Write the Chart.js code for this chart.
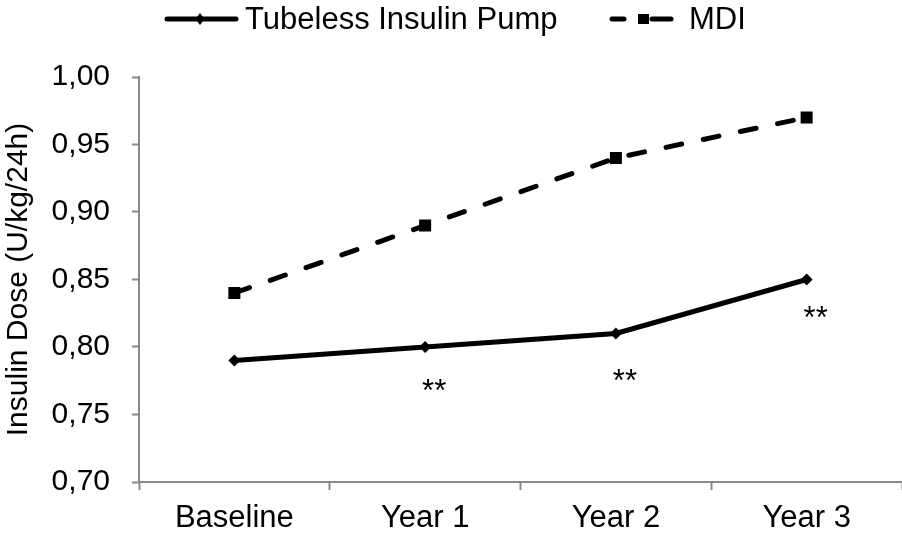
<!DOCTYPE html>
<html>
<head>
    <title>Insulin Dose</title>
    <script src="https://cdn.jsdelivr.net/npm/chart.js"></script>
    <style>
        body {
            margin: 0;
            padding: 0;
            background: white;
        }
        #chart-container {
            width: 902px;
            height: 541px;
        }
    </style>
</head>
<body>

<div id="chart-container">
    <canvas id="doseChart"></canvas>
</div>

<script>
    const categories = ['Baseline', 'Year 1', 'Year 2', 'Year 3'];
    const pumpDose = [0.79, 0.80, 0.81, 0.85];
    const mdiDose = [0.84, 0.89, 0.94, 0.97];
    // significance marks: text and the value they sit at under the pump line
    const sigText = ['', '**', '**', '**'];
    const sigValue = [null, 0.7737, 0.7807, 0.8274];

    const FONT = "'Liberation Sans', Arial, sans-serif";
    const AXIS = '#898989';

    // legend drawn by hand so the sample lines can sit tight against the text
    const legendPlugin = {
        id: 'legendRow',
        afterDraw(chart) {
            const ctx = chart.ctx;
            const y = 19;
            ctx.save();
            ctx.strokeStyle = '#000';
            ctx.fillStyle = '#000';
            ctx.lineWidth = 5;
            ctx.lineCap = 'round';

            // solid sample with small diamond
            ctx.beginPath();
            ctx.moveTo(167, y); ctx.lineTo(236, y);
            ctx.stroke();
            ctx.beginPath();
            ctx.moveTo(200, y - 6); ctx.lineTo(204.5, y); ctx.lineTo(200, y + 6); ctx.lineTo(195.5, y);
            ctx.closePath();
            ctx.fill();

            // dashed sample with square
            ctx.beginPath();
            ctx.moveTo(612, y); ctx.lineTo(624, y);
            ctx.moveTo(652, y); ctx.lineTo(671, y);
            ctx.stroke();
            ctx.fillRect(638, y - 5, 11, 10);

            ctx.font = '31px ' + FONT;
            ctx.textBaseline = 'alphabetic';
            ctx.textAlign = 'left';
            ctx.fillText(chart.data.datasets[0].label, 245, 29);
            ctx.fillText(chart.data.datasets[1].label, 689, 29);
            ctx.restore();
        }
    };

    const sigPlugin = {
        id: 'sigMarks',
        afterDatasetsDraw(chart) {
            const ctx = chart.ctx;
            const x = chart.scales.x, y = chart.scales.y;
            ctx.save();
            ctx.font = '31px ' + FONT;
            ctx.fillStyle = '#000';
            ctx.textAlign = 'center';
            ctx.textBaseline = 'alphabetic';
            sigText.forEach((t, i) => {
                if (!t) return;
                ctx.fillText(t, x.getPixelForValue(i) + 9, y.getPixelForValue(sigValue[i]) + 18);
            });
            ctx.restore();
        }
    };

    new Chart(document.getElementById('doseChart'), {
        type: 'line',
        data: {
            labels: categories,
            datasets: [{
                label: 'Tubeless Insulin Pump',
                data: pumpDose,
                borderColor: '#000',
                backgroundColor: '#000',
                borderWidth: 5,
                pointStyle: 'rectRot',
                pointRadius: 6,
                pointBorderWidth: 0,
                tension: 0
            }, {
                label: 'MDI',
                data: mdiDose,
                borderColor: '#000',
                backgroundColor: '#000',
                borderWidth: 5,
                borderDash: [16, 22],
                borderCapStyle: 'round',
                pointStyle: 'rect',
                pointRadius: 8.5,
                pointBorderWidth: 0,
                tension: 0
            }]
        },
        options: {
            responsive: true,
            maintainAspectRatio: false,
            animation: false,
            layout: {
                autoPadding: false,
                padding: { left: 0, right: 0, top: 77, bottom: 0 }
            },
            plugins: {
                legend: { display: false },
                tooltip: { enabled: false }
            },
            scales: {
                x: {
                    offset: true,
                    grid: {
                        offset: true,
                        drawOnChartArea: false,
                        tickLength: 8,
                        tickWidth: 2,
                        tickColor: AXIS
                    },
                    border: { color: AXIS, width: 2 },
                    ticks: {
                        color: '#000',
                        font: { family: FONT, size: 31 },
                        padding: 10
                    },
                    afterFit(scale) {
                        scale.height = 59;
                        scale.paddingLeft = 0;
                        scale.paddingRight = 0;
                    }
                },
                y: {
                    min: 0.70,
                    max: 1.00,
                    ticks: {
                        stepSize: 0.05,
                        color: '#000',
                        font: { family: FONT, size: 30 },
                        padding: 22,
                        callback: v => v.toFixed(2).replace('.', ',')
                    },
                    grid: {
                        drawOnChartArea: false,
                        tickLength: 7,
                        tickWidth: 2,
                        tickColor: AXIS
                    },
                    border: { color: AXIS, width: 2 },
                    title: {
                        display: true,
                        text: 'Insulin Dose (U/kg/24h)',
                        color: '#000',
                        font: { family: FONT, size: 30 },
                        padding: { top: 1, bottom: 0 }
                    },
                    afterFit(scale) { scale.width = 139; }
                }
            }
        },
        plugins: [sigPlugin, legendPlugin]
    });
</script>

</body>
</html>
